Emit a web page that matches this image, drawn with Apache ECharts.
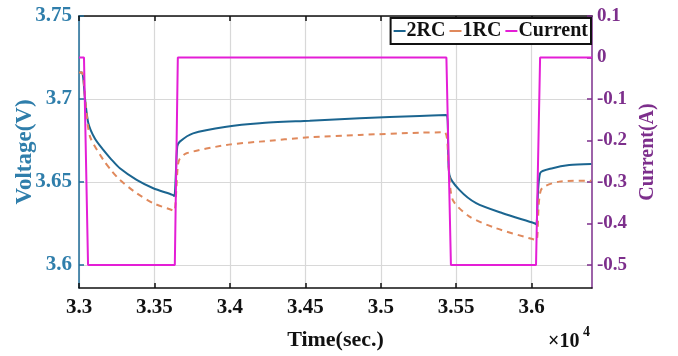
<!DOCTYPE html>
<html><head><meta charset="utf-8">
<script src="https://cdn.jsdelivr.net/npm/echarts@6/dist/echarts.min.js"></script>
<style>html,body{margin:0;padding:0;background:#fff}#c{width:678px;height:356px}</style>
</head><body><div id="c"></div>
<script>
// time in units of 1e4 sec
const xTicks = [3.3, 3.35, 3.4, 3.45, 3.5, 3.55, 3.6];
const leftTicks = [3.6, 3.65, 3.7, 3.75];
const rightTicks = [-0.5, -0.4, -0.3, -0.2, -0.1, 0, 0.1];

const time2RC = [3.3, 3.302, 3.304, 3.3062, 3.3106, 3.3161, 3.3215, 3.3271, 3.3382, 3.3492, 3.362, 3.3632, 3.3651, 3.3668, 3.3756, 3.3977, 3.4198, 3.4529, 3.486, 3.5257, 3.5433, 3.5455, 3.5521, 3.5632, 3.5808, 3.6018, 3.6031, 3.6056, 3.6139, 3.6249, 3.6395];
const volt2RC = [3.716, 3.716, 3.700, 3.6854, 3.676, 3.6693, 3.6635, 3.6582, 3.6512, 3.6462, 3.6422, 3.6415, 3.6713, 3.6743, 3.6793, 3.6833, 3.6854, 3.6869, 3.6884, 3.6898, 3.6904, 3.6542, 3.6452, 3.6372, 3.6311, 3.6251, 3.6245, 3.6553, 3.6583, 3.6602, 3.6608];

const time1RC = [3.3, 3.302, 3.3046, 3.3073, 3.3161, 3.3215, 3.3271, 3.3382, 3.3492, 3.3615, 3.3632, 3.3655, 3.3668, 3.3713, 3.3977, 3.4198, 3.4529, 3.486, 3.5257, 3.5422, 3.5449, 3.5477, 3.5588, 3.5764, 3.5985, 3.6031, 3.6062, 3.6183, 3.6395];
const volt1RC = [3.716, 3.716, 3.695, 3.6773, 3.6633, 3.6568, 3.6512, 3.6432, 3.6372, 3.6331, 3.6325, 3.660, 3.664, 3.6673, 3.6723, 3.6743, 3.6769, 3.6783, 3.6797, 3.6799, 3.660, 3.6392, 3.6291, 3.6221, 3.6161, 3.615, 3.6452, 3.6502, 3.6508];

const timeCurrent = [3.3, 3.3033, 3.306, 3.3635, 3.3655, 3.5435, 3.5465, 3.6029, 3.6056, 3.64];
const current = [0, 0, -0.5, -0.5, 0, 0, -0.5, -0.5, 0, 0];

const zip = (a, b) => a.map((t, i) => [t, b[i]]);
const SERIF = 'Liberation Serif';
const TEAL = '#2f7eab';
const PURPLE = '#7d2f8c';
const BLUE = '#1b6590', ORANGE = '#e0895c', MAGENTA = '#e41ed6';

const chart = echarts.init(document.getElementById('c'));
chart.setOption({
  animation: false,
  backgroundColor: '#fff',
  grid: { left: 79, right: 86, top: 16, bottom: 68, outerBoundsMode: 'none', containLabel: false },
  legend: {
    right: 87, top: 18,
    data: [{ name: '2RC', itemStyle: { color: BLUE } }, { name: '1RC', itemStyle: { color: ORANGE } }, { name: 'Current', itemStyle: { color: MAGENTA } }],
    icon: 'rect',
    backgroundColor: '#fff', borderColor: '#111', borderWidth: 2,
    padding: [3, 3], itemGap: 4, itemWidth: 12, itemHeight: 2,
    textStyle: { fontFamily: SERIF, fontWeight: 'bold', fontSize: 20, color: '#111', padding: [0, 0, 0, -4] }
  },
  xAxis: [{
    type: 'value', min: 3.3, max: 3.64, position: 'bottom',
    name: 'Time(sec.)', nameLocation: 'middle', nameGap: 41, nameMoveOverlap: false,
    nameTextStyle: { fontFamily: SERIF, fontWeight: 'bold', fontSize: 22, color: '#111' },
    axisLine: { onZero: false, lineStyle: { color: '#111', width: 1.5 } },
    axisTick: { inside: true, length: 5, customValues: xTicks, lineStyle: { color: '#111', width: 1.5 } },
    axisLabel: { customValues: xTicks, margin: 9, fontFamily: SERIF, fontWeight: 'bold', fontSize: 21, color: '#111' },
    splitLine: { show: true, lineStyle: { color: '#d8d8d8', width: 1.2 } }
  }, {
    type: 'value', min: 3.3, max: 3.64, position: 'top',
    axisLine: { onZero: false, lineStyle: { color: '#111', width: 1.5 } },
    axisTick: { inside: true, length: 5, customValues: xTicks, lineStyle: { color: '#111', width: 1.5 } },
    axisLabel: { show: false }, splitLine: { show: false }
  }],
  yAxis: [{
    type: 'value', min: 3.5861, max: 3.75, position: 'left',
    name: 'Voltage(V)', nameLocation: 'middle', nameGap: 42, nameMoveOverlap: false,
    nameTextStyle: { fontFamily: SERIF, fontWeight: 'bold', fontSize: 23, color: TEAL },
    axisLine: { show: true, onZero: false, lineStyle: { color: '#1f6c98', width: 1.5 } },
    axisTick: { show: true, inside: true, length: 5, customValues: leftTicks, lineStyle: { color: '#1f6c98', width: 1.5 } },
    axisLabel: { customValues: leftTicks, margin: 7, fontFamily: SERIF, fontWeight: 'bold', fontSize: 21, color: TEAL },
    splitLine: { show: true, lineStyle: { color: '#d8d8d8', width: 1.2 } }
  }, {
    type: 'value', min: -0.5554, max: 0.1, position: 'right',
    name: 'Current(A)', nameLocation: 'middle', nameGap: 46,
    nameTextStyle: { fontFamily: SERIF, fontWeight: 'bold', fontSize: 20, color: PURPLE },
    axisLine: { show: true, onZero: false, lineStyle: { color: PURPLE, width: 1.5 } },
    axisTick: { show: true, inside: true, length: 5, customValues: rightTicks, lineStyle: { color: PURPLE, width: 1.5 } },
    axisLabel: { customValues: rightTicks, margin: 5, fontFamily: SERIF, fontWeight: 'bold', fontSize: 19, color: PURPLE },
    splitLine: { show: false }
  }],
  series: [{
    name: '2RC', type: 'line', xAxisIndex: 0, yAxisIndex: 0, symbol: 'none', smooth: 0.25,
    data: zip(time2RC, volt2RC),
    lineStyle: { color: BLUE, width: 2 }, itemStyle: { color: BLUE }
  }, {
    name: '1RC', type: 'line', xAxisIndex: 0, yAxisIndex: 0, symbol: 'none', smooth: 0.25,
    data: zip(time1RC, volt1RC),
    lineStyle: { color: ORANGE, width: 2, type: [6, 5] }, itemStyle: { color: ORANGE }
  }, {
    name: 'Current', type: 'line', xAxisIndex: 0, yAxisIndex: 1, symbol: 'none',
    data: zip(timeCurrent, current), z: 3,
    lineStyle: { color: MAGENTA, width: 2 }, itemStyle: { color: MAGENTA }
  }],
  graphic: [
    { type: 'text', left: 548, top: 332, style: { text: '×10', font: 'bold 20px "Liberation Serif"', fill: '#111' } },
    { type: 'text', left: 583, top: 325, style: { text: '4', font: 'bold 14px "Liberation Serif"', fill: '#111' } }
  ]
});
</script>
</body></html>
